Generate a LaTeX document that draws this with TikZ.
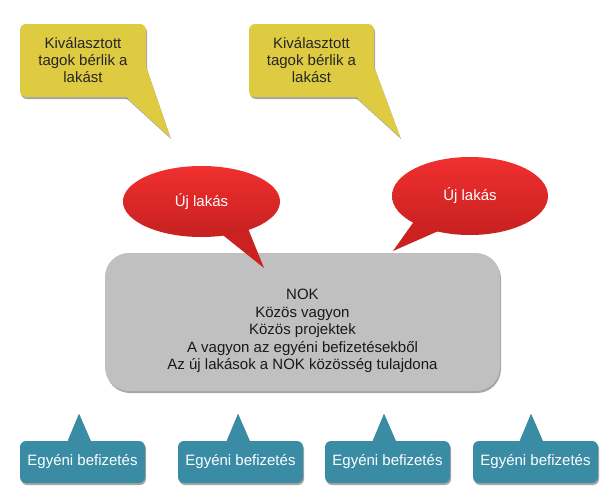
\documentclass[tikz,border=0pt]{standalone}
\usepackage{fontspec}
\setmainfont{Liberation Sans}
\usetikzlibrary{shadows,shapes.geometric}
\definecolor{yel}{HTML}{DECB42}
\definecolor{redA}{HTML}{F0302F}
\definecolor{redB}{HTML}{C72020}
\definecolor{grayb}{HTML}{C0C0C0}
\definecolor{blu}{HTML}{3A8CA5}
\tikzset{
  shad/.style={drop shadow={shadow xshift=1pt,shadow yshift=-2pt,opacity=0.35,fill=black}},
  yelbox/.style={shad,fill=yel,rounded corners=6pt,minimum width=126pt,minimum height=73pt,inner sep=0pt,align=center,font=\fontsize{15}{17}\selectfont,text=black!85},
  yeltail/.style={fill=yel},
  redell/.style={ellipse,top color=redA,bottom color=redB,inner sep=0pt,text=white,font=\fontsize{15}{17}\selectfont},
  redtail/.style={fill=redB!90!redA},
  graybox/.style={shad,fill=grayb,rounded corners=24pt,minimum width=395pt,minimum height=138pt,inner sep=0pt},
  graytext/.style={align=center,inner sep=0pt,font=\fontsize{15}{17.5}\selectfont,text=black!90},
  blubox/.style={shad,fill=blu,rounded corners=6pt,minimum width=125pt,minimum height=42pt,inner sep=0pt,text=white,font=\fontsize{15}{17}\selectfont},
  blutail/.style={fill=blu},
}
\begin{document}
\begin{tikzpicture}[x=1pt,y=-1pt]
\useasboundingbox (0,0) rectangle (608,490);
% yellow callouts
\coordinate (yt1) at (170,137);
\coordinate (yt2) at (400,137);
\fill[yeltail,shad] (125,96) -- (yt1) -- (146,67) -- (135,80) -- cycle;
\fill[yeltail,shad] (355,96) -- (yt2) -- (374,67) -- (364,80) -- cycle;
\node[yelbox] (y1) at (83,60.5) {Kiválasztott\\tagok bérlik a\\lakást};
\node[yelbox,minimum width=125pt] (y2) at (311.5,60.5) {Kiválasztott\\tagok bérlik a\\lakást};
\fill[yeltail] (125,96) -- (yt1) -- (146,67) -- (135,80) -- cycle;
\fill[yeltail] (355,96) -- (yt2) -- (374,67) -- (364,80) -- cycle;
% gray box
\node[graybox] (g) at (302.5,322) {};
\node[graytext] (gt) at (302.5,331) {NOK\\Közös vagyon\\Közös projektek\\A vagyon az egyéni befizetésekből\\Az új lakások a NOK közösség tulajdona};
% red callouts
\coordinate (rt1) at (264,268);
\coordinate (rt2) at (393,251);
\fill[redtail] (219,232) -- (rt1) -- (247,226) -- cycle;
\fill[redtail] (415,220) -- (rt2) -- (443,229) -- cycle;
\node[redell,minimum width=157pt,minimum height=71pt] (r1) at (201.5,201.5) {\raisebox{3pt}{Új lakás}};
\node[redell,minimum width=156pt,minimum height=78pt] (r2) at (470,196) {Új lakás};
% blue callouts
\foreach \cx/\tx/\nm in {82.5/79/b1,240.5/238/b2,387.5/384/b3,535.5/531/b4}{
  \coordinate (\nm t) at (\tx,414);
  \fill[blutail,shad] (\tx-12.5,444) -- (\nm t) -- (\tx+13,444) -- cycle;
  \node[blubox] (\nm) at (\cx,462) {Egyéni befizetés};
  \fill[blutail] (\tx-12.5,444) -- (\nm t) -- (\tx+13,444) -- cycle;
}
\end{tikzpicture}
\end{document}
